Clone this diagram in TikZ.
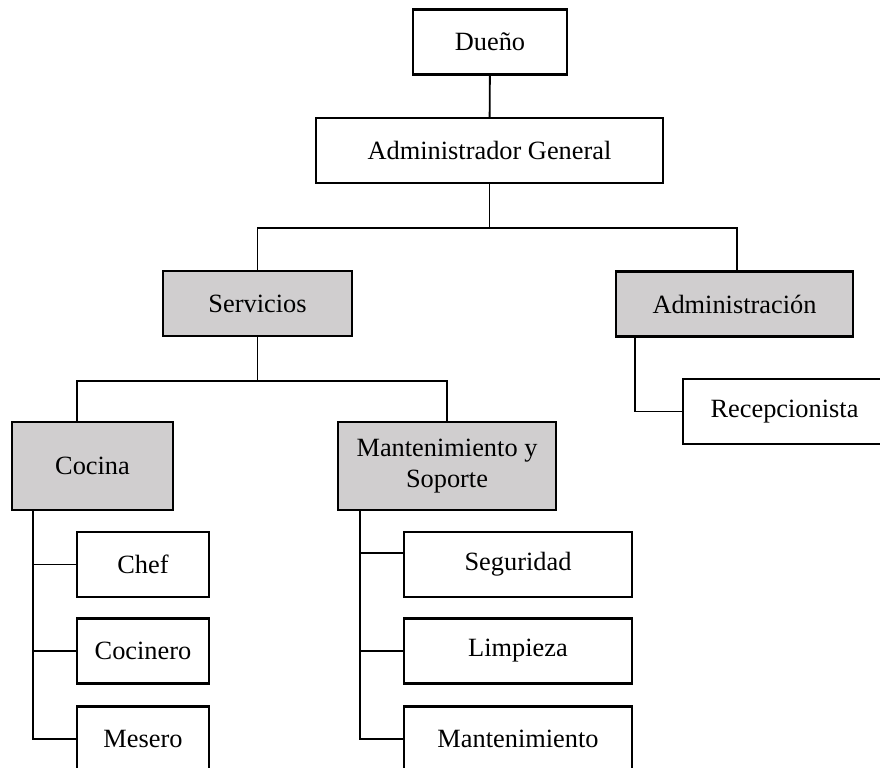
\documentclass[tikz,border=0pt]{standalone}
\usepackage{fontspec}
\setmainfont{Liberation Serif}
\usetikzlibrary{positioning, calc}

\definecolor{cajagris}{RGB}{208,206,207}
\newcommand{\pxu}{0.03cm}

\begin{document}
\begin{tikzpicture}
[
    x=0.03cm, y=-0.03cm,
    % Coordinates are read like pixels: x to the right, y downwards.
    % Boxes are placed by their centres, connectors go from node to node.
    font=\fontsize{22.5}{26}\selectfont
]

%=================================== Start ===================================
\tikzstyle{caja}  = [draw, line width=1.8pt, align=center, inner sep=0pt,
                     minimum height=65*\pxu, minimum width=#1*\pxu]
\tikzstyle{gris}  = [fill=cajagris]
\tikzstyle{alta}  = [minimum height=88*\pxu]
\tikzstyle{linea} = [line width=1.6pt]

\fill[white] (0,0) rectangle (880,768);
\useasboundingbox (0,0) rectangle (880,768);

{
    % Top levels
    \node[caja=154] (dueno) at (490,42) {Dueño};
    \node[caja=347] (admin-gral) at (489.5,150.5) {Administrador General};

    % Areas
    \node[caja=189, gris] (servicios) at (257.5,303.5) {Servicios};
    \node[caja=237, gris] (administracion) at (734.5,304) {Administración};
    \node[caja=203] (recepcion) at (784.5,411.5) {Recepcionista};

    % Departments
    \node[caja=161, gris, alta] (cocina) at (92.5,466) {Cocina};
    \node[caja=218, gris, alta] (mant-sop) at (447,466) {Mantenimiento y\\Soporte};

    % Staff boxes
    \foreach \y / \nm / \txt in {564.5/chef/Chef, 651/cocinero/Cocinero, 739/mesero/Mesero}
        \node[caja=132] (\nm) at (143,\y) {\txt};
    \foreach \y / \nm / \txt in {564.5/seguridad/Seguridad, 651/limpieza/Limpieza,
                                 739/mant/Mantenimiento}
        \node[caja=228] (\nm) at (518,\y) {\txt};

    % Connect the levels
    \draw[linea] (dueno) -- (admin-gral);
    \coordinate (J-0) at ($(admin-gral.south)+(0,44)$);
    \draw[linea] (admin-gral) -- (J-0);
    \draw[linea] (servicios.north) |- (J-0) -| ($(administracion.north)+(2.5,0)$);

    \coordinate (J-1) at ($(servicios.south)+(0,44)$);
    \draw[linea] (servicios) -- (J-1);
    \draw[linea] ($(cocina.north)+(-15.5,0)$) |- (J-1) -| (mant-sop.north);

    \draw[linea] ($(administracion.south west)+(20,0)$) |- (recepcion.west);

    % Staff branches
    \foreach \nm in {chef, cocinero, mesero}
        \draw[linea] ($(cocina.south west)+(22,0)$) |- (\nm.west);
    \draw[linea] ($(mant-sop.south west)+(23,0)$) |- ($(seguridad.west)+(0,-11.5)$);
    \foreach \nm in {limpieza, mant}
        \draw[linea] ($(mant-sop.south west)+(23,0)$) |- (\nm.west);
}
%==================================== END ====================================

\end{tikzpicture}
\end{document}
